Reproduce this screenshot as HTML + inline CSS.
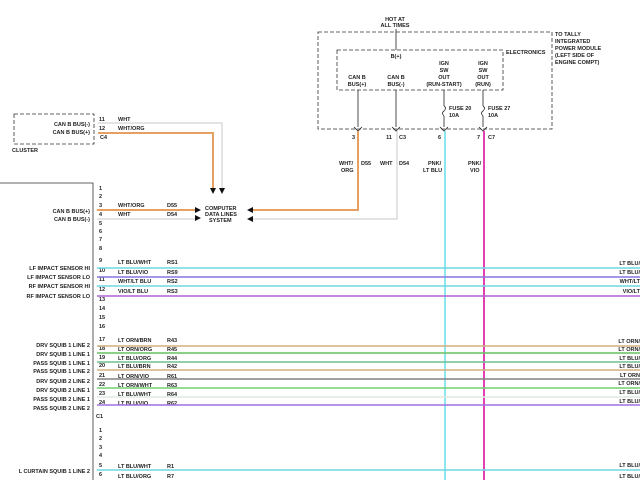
<!DOCTYPE html>
<html><head><style>
body{margin:0;background:#fff}
svg text{font-family:"Liberation Sans",sans-serif;font-size:5.5px;font-weight:bold;fill:#222}
</style></head><body>
<svg width="640" height="480" viewBox="0 0 640 480" xmlns="http://www.w3.org/2000/svg">
<rect width="640" height="480" fill="#fff"/>
<!-- top -->
<text x="395" y="21" text-anchor="middle">HOT AT</text>
<text x="395" y="27" text-anchor="middle">ALL TIMES</text>
<line x1="396" y1="29" x2="396" y2="50" stroke="#222" stroke-width="0.8"/>
<rect x="318" y="32" width="234" height="97" fill="none" stroke="#333" stroke-width="0.8" stroke-dasharray="4,2"/>
<rect x="337" y="50" width="166" height="40" fill="none" stroke="#333" stroke-width="0.8" stroke-dasharray="4,2"/>
<text x="555" y="36">TO TALLY</text><text x="555" y="43">INTEGRATED</text><text x="555" y="50">POWER MODULE</text><text x="555" y="57">(LEFT SIDE OF</text><text x="555" y="64">ENGINE COMPT)</text>
<text x="506" y="54">ELECTRONICS</text>
<text x="396" y="58" text-anchor="middle">B(+)</text>
<text x="357" y="79" text-anchor="middle">CAN B</text><text x="357" y="86" text-anchor="middle">BUS(+)</text>
<text x="396" y="79" text-anchor="middle">CAN B</text><text x="396" y="86" text-anchor="middle">BUS(-)</text>
<text x="444" y="65" text-anchor="middle">IGN</text><text x="444" y="72" text-anchor="middle">SW</text><text x="444" y="79" text-anchor="middle">OUT</text><text x="444" y="86" text-anchor="middle">(RUN-START)</text>
<text x="483" y="65" text-anchor="middle">IGN</text><text x="483" y="72" text-anchor="middle">SW</text><text x="483" y="79" text-anchor="middle">OUT</text><text x="483" y="86" text-anchor="middle">(RUN)</text>
<g stroke="#222" stroke-width="0.8" fill="none">
<line x1="358" y1="90" x2="358" y2="127"/><line x1="396" y1="90" x2="396" y2="127"/>
<line x1="444" y1="90" x2="444" y2="106"/><line x1="444" y1="116" x2="444" y2="127"/>
<line x1="483" y1="90" x2="483" y2="106"/><line x1="483" y1="116" x2="483" y2="127"/>
<path d="M444 106 q3 2 0 5 q-3 2 0 5"/><path d="M483 106 q3 2 0 5 q-3 2 0 5"/>
<path d="M354 127 l4 4 l4 -4"/><path d="M392 127 l4 4 l4 -4"/><path d="M440 127 l4 4 l4 -4"/><path d="M479 127 l4 4 l4 -4"/>
</g>
<text x="449" y="110">FUSE 20</text><text x="449" y="117">10A</text>
<text x="488" y="110">FUSE 27</text><text x="488" y="117">10A</text>
<text x="355" y="139" text-anchor="end">3</text><text x="392" y="139" text-anchor="end">11</text><text x="399" y="139">C3</text>
<text x="441" y="139" text-anchor="end">6</text><text x="480" y="139" text-anchor="end">7</text><text x="488" y="139">C7</text>
<text x="339" y="165">WHT/</text><text x="341" y="172">ORG</text><text x="361" y="165">D55</text>
<text x="380" y="165">WHT</text><text x="399" y="165">D54</text>
<text x="428" y="165">PNK/</text><text x="423" y="172">LT BLU</text>
<text x="468" y="165">PNK/</text><text x="470" y="172">VIO</text>
<!-- vertical wires -->
<polyline points="358,131 358,210 250,210" fill="none" stroke="#e8a060" stroke-width="2"/>
<polyline points="397,131 397,219 250,219" fill="none" stroke="#c8c8c8" stroke-width="1"/>
<line x1="445" y1="131" x2="445" y2="480" stroke="#66dde8" stroke-width="1.5"/>
<line x1="484" y1="131" x2="484" y2="480" stroke="#e040b0" stroke-width="2"/>
<!-- cluster -->
<rect x="14" y="114" width="80" height="30" fill="none" stroke="#333" stroke-width="0.8" stroke-dasharray="4,2"/>
<text x="12" y="152">CLUSTER</text>
<text x="90" y="126" text-anchor="end">CAN B BUS(-)</text><text x="90" y="134" text-anchor="end">CAN B BUS(+)</text>
<text x="99" y="121">11</text><text x="99" y="130">12</text><text x="100" y="139">C4</text>
<text x="118" y="121">WHT</text><text x="118" y="130">WHT/ORG</text>
<polyline points="98,123 222,123 222,188" fill="none" stroke="#c8c8c8" stroke-width="1"/>
<polyline points="98,133 213,133 213,188" fill="none" stroke="#e8a060" stroke-width="2"/>
<g fill="#111">
<path d="M210 188h6l-3 6z"/><path d="M219 188h6l-3 6z"/>
<path d="M195 207v6l6-3z"/><path d="M195 215v6l6-3z"/>
<path d="M253 207v6l-6-3z"/><path d="M253 216v6l-6-3z"/>
</g>
<text x="205" y="210">COMPUTER</text><text x="205" y="216">DATA LINES</text><text x="209" y="222">SYSTEM</text>
<!-- main module -->
<polyline points="0,183 93,183 93,480" fill="none" stroke="#333" stroke-width="0.8"/>
<g id="pins" font-size="5.5">
<text x="99" y="190">1</text><text x="99" y="198">2</text><text x="99" y="207">3</text><text x="99" y="216">4</text><text x="99" y="225">5</text><text x="99" y="233">6</text><text x="99" y="241">7</text><text x="99" y="250">8</text><text x="99" y="262">9</text><text x="99" y="272">10</text><text x="99" y="281">11</text><text x="99" y="291">12</text><text x="99" y="301">13</text><text x="99" y="310">14</text><text x="99" y="319">15</text><text x="99" y="328">16</text><text x="99" y="341">17</text><text x="99" y="350">18</text><text x="99" y="359">19</text><text x="99" y="367">20</text><text x="99" y="377">21</text><text x="99" y="386">22</text><text x="99" y="395">23</text><text x="99" y="404">24</text><text x="96" y="418">C1</text><text x="99" y="432">1</text><text x="99" y="440">2</text><text x="99" y="449">3</text><text x="99" y="457">4</text><text x="99" y="467">5</text><text x="99" y="476">6</text>
</g>
<text x="90" y="213" text-anchor="end">CAN B BUS(+)</text><text x="90" y="221" text-anchor="end">CAN B BUS(-)</text>
<text x="118" y="207">WHT/ORG</text><text x="167" y="207">D55</text>
<text x="118" y="216">WHT</text><text x="167" y="216">D54</text>
<line x1="97" y1="210" x2="195" y2="210" stroke="#e8a060" stroke-width="2"/>
<line x1="97" y1="219" x2="195" y2="219" stroke="#c8c8c8" stroke-width="1"/>
<g font-size="5.5">
<text x="90" y="270" text-anchor="end">LF IMPACT SENSOR HI</text><text x="90" y="279" text-anchor="end">LF IMPACT SENSOR LO</text><text x="90" y="288" text-anchor="end">RF IMPACT SENSOR HI</text><text x="90" y="298" text-anchor="end">RF IMPACT SENSOR LO</text>
<text x="90" y="347" text-anchor="end">DRV SQUIB 1 LINE 2</text><text x="90" y="356" text-anchor="end">DRV SQUIB 1 LINE 1</text><text x="90" y="365" text-anchor="end">PASS SQUIB 1 LINE 1</text><text x="90" y="373" text-anchor="end">PASS SQUIB 1 LINE 2</text><text x="90" y="383" text-anchor="end">DRV SQUIB 2 LINE 2</text><text x="90" y="392" text-anchor="end">DRV SQUIB 2 LINE 1</text><text x="90" y="401" text-anchor="end">PASS SQUIB 2 LINE 1</text><text x="90" y="410" text-anchor="end">PASS SQUIB 2 LINE 2</text>
<text x="90" y="473" text-anchor="end">L CURTAIN SQUIB 1 LINE 2</text>
</g>
<g>
<text x="118" y="264">LT BLU/WHT</text><text x="167" y="264">RS1</text>
<text x="118" y="274">LT BLU/VIO</text><text x="167" y="274">RS9</text>
<text x="118" y="283">WHT/LT BLU</text><text x="167" y="283">RS2</text>
<text x="118" y="293">VIO/LT BLU</text><text x="167" y="293">RS3</text>
<text x="118" y="342">LT ORN/BRN</text><text x="167" y="342">R43</text>
<text x="118" y="351">LT ORN/ORG</text><text x="167" y="351">R45</text>
<text x="118" y="360">LT BLU/ORG</text><text x="167" y="360">R44</text>
<text x="118" y="368">LT BLU/BRN</text><text x="167" y="368">R42</text>
<text x="118" y="378">LT ORN/VIO</text><text x="167" y="378">R61</text>
<text x="118" y="387">LT ORN/WHT</text><text x="167" y="387">R63</text>
<text x="118" y="396">LT BLU/WHT</text><text x="167" y="396">R64</text>
<text x="118" y="405">LT BLU/VIO</text><text x="167" y="405">R62</text>
<text x="118" y="468">LT BLU/WHT</text><text x="167" y="468">R1</text>
<text x="118" y="478">LT BLU/ORG</text><text x="167" y="478">R7</text>
</g>
<g stroke-width="1.6">
<line x1="97" y1="268" x2="640" y2="268" stroke="#6cd8e0"/>
<line x1="97" y1="277" x2="640" y2="277" stroke="#8877e0"/>
<line x1="97" y1="286" x2="640" y2="286" stroke="#6cd8e0"/>
<line x1="97" y1="296" x2="640" y2="296" stroke="#b060d0"/>
<line x1="97" y1="346" x2="640" y2="346" stroke="#d0b080"/>
<line x1="97" y1="353" x2="640" y2="353" stroke="#66c060"/>
<line x1="97" y1="362" x2="640" y2="362" stroke="#6cc090"/>
<line x1="97" y1="370" x2="640" y2="370" stroke="#d0b080"/>
<line x1="97" y1="379" x2="640" y2="379" stroke="#808080"/>
<line x1="97" y1="388" x2="640" y2="388" stroke="#70d070"/>
<line x1="97" y1="397" x2="640" y2="397" stroke="#e0e8e0"/>
<line x1="97" y1="405" x2="640" y2="405" stroke="#a070e0"/>
<line x1="97" y1="470" x2="640" y2="470" stroke="#6cd8e0"/>
</g>
<g text-anchor="end">
<text x="640" y="265">LT BLU/</text><text x="640" y="274">LT BLU/</text><text x="640" y="283">WHT/LT</text><text x="640" y="293">VIO/LT</text>
<text x="640" y="343">LT ORN/</text><text x="640" y="351">LT ORN/</text><text x="640" y="360">LT BLU/</text><text x="640" y="368">LT BLU/</text><text x="640" y="377">LT ORN</text><text x="640" y="385">LT ORN/</text><text x="640" y="394">LT BLU/</text><text x="640" y="403">LT BLU/</text>
<text x="640" y="467">LT BLU/</text><text x="640" y="478">LT BLU/</text>
</g>
</svg>
</body></html>
